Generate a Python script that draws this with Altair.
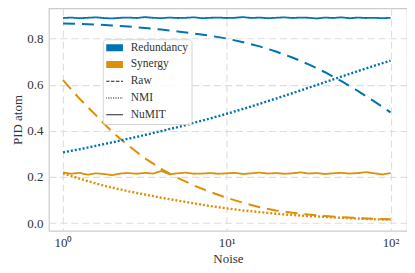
import altair as alt
import pandas as pd

# x grid for smooth curves (log-spaced noise levels)
noise_coarse = [1, 1.259, 1.585, 1.995, 2.512, 3.162, 3.981, 5.012, 6.310, 7.943,
                10, 12.59, 15.85, 19.95, 25.12, 31.62, 39.81, 50.12, 63.10, 79.43, 100]

red_raw = [0.865, 0.864, 0.861, 0.857, 0.852, 0.846, 0.839, 0.831, 0.822, 0.812,
           0.800, 0.784, 0.766, 0.744, 0.718, 0.688, 0.654, 0.615, 0.573, 0.528, 0.480]
red_nmi = [0.307, 0.320, 0.335, 0.350, 0.366, 0.382, 0.399, 0.416, 0.435, 0.454,
           0.474, 0.495, 0.517, 0.540, 0.563, 0.587, 0.611, 0.635, 0.659, 0.682, 0.704]
syn_raw = [0.620, 0.540, 0.468, 0.396, 0.336, 0.281, 0.235, 0.196, 0.163, 0.135,
           0.110, 0.088, 0.069, 0.055, 0.045, 0.037, 0.031, 0.026, 0.022, 0.019, 0.017]
syn_nmi = [0.216, 0.193, 0.172, 0.154, 0.138, 0.124, 0.110, 0.098, 0.086, 0.074,
           0.064, 0.055, 0.048, 0.041, 0.035, 0.031, 0.027, 0.023, 0.020, 0.017, 0.015]

# finer grid for noisy NuMIT estimates
noise_fine = [1, 1.122, 1.259, 1.413, 1.585, 1.778, 1.995, 2.239, 2.512, 2.818,
              3.162, 3.548, 3.981, 4.467, 5.012, 5.623, 6.310, 7.079, 7.943, 8.913,
              10, 11.22, 12.59, 14.13, 15.85, 17.78, 19.95, 22.39, 25.12, 28.18,
              31.62, 35.48, 39.81, 44.67, 50.12, 56.23, 63.10, 70.79, 79.43, 89.13, 100]
red_numit = [0.889, 0.891, 0.888, 0.890, 0.892, 0.889, 0.887, 0.890, 0.891, 0.889,
             0.893, 0.890, 0.888, 0.891, 0.889, 0.890, 0.892, 0.888, 0.890, 0.891,
             0.889, 0.890, 0.893, 0.889, 0.891, 0.888, 0.890, 0.892, 0.889, 0.891,
             0.890, 0.887, 0.891, 0.889, 0.892, 0.888, 0.891, 0.889, 0.890, 0.888, 0.890]
syn_numit = [0.220, 0.214, 0.218, 0.210, 0.216, 0.213, 0.208, 0.215, 0.217, 0.214,
             0.218, 0.215, 0.226, 0.212, 0.216, 0.219, 0.214, 0.215, 0.217, 0.214,
             0.216, 0.218, 0.213, 0.216, 0.219, 0.215, 0.217, 0.214, 0.216, 0.220,
             0.215, 0.217, 0.213, 0.216, 0.218, 0.215, 0.217, 0.221, 0.216, 0.211, 0.217]

legend_entries = ["Redundancy", "Synergy", "Raw", "NMI", "NuMIT"]
legend_colors = ["#0173b2", "#de8f05", "#222222", "#222222", "#222222"]
atom_colors = {"Redundancy": "#0173b2", "Synergy": "#de8f05"}

rows = []
def add(xs, ys, atom, method):
    for x, y in zip(xs, ys):
        rows.append({"noise": x, "value": y, "atom": atom, "method": method})

add(noise_fine, red_numit, "Redundancy", "NuMIT")
add(noise_fine, syn_numit, "Synergy", "NuMIT")
add(noise_coarse, red_raw, "Redundancy", "Raw")
add(noise_coarse, syn_raw, "Synergy", "Raw")
add(noise_coarse, red_nmi, "Redundancy", "NMI")
add(noise_coarse, syn_nmi, "Synergy", "NMI")
df = pd.DataFrame(rows)

FONT = "Liberation Serif"

xenc = alt.X("noise:Q",
             scale=alt.Scale(type="log", domain=[0.82, 126], nice=False),
             axis=alt.Axis(values=[1, 10, 100],
                           labelExpr="datum.value == 1 ? '10⁰' : datum.value == 10 ? '10¹' : '10²'",
                           title="Noise", labelPadding=6, titlePadding=3))
yenc = alt.Y("value:Q",
             scale=alt.Scale(domain=[-0.033, 0.931], nice=False, zero=False),
             axis=alt.Axis(values=[0, 0.2, 0.4, 0.6, 0.8], format=".1f",
                           title="PID atom", labelPadding=6, titlePadding=2))

dash_map = {"Raw": [12, 7], "NMI": [2, 2], "NuMIT": [1, 0]}
width_map = {"Raw": 2.0, "NMI": 2.4, "NuMIT": 1.8}

legend_df = pd.DataFrame({"entry": legend_entries,
                          "noise": [None] * 5, "value": [None] * 5})
legend_layer = alt.Chart(legend_df).mark_line().encode(
    x=alt.X("noise:Q"), y=alt.Y("value:Q"),
    color=alt.Color("entry:N",
                    scale=alt.Scale(domain=legend_entries, range=legend_colors),
                    sort=legend_entries,
                    legend=alt.Legend(
                        title=None, orient="none", legendX=54, legendY=31,
                        symbolType="stroke", symbolSize=484,
                        symbolStrokeWidth={"expr": "(datum.value == 'Redundancy' || datum.value == 'Synergy') ? 7 : 1.1"},
                        symbolDash={"expr": "datum.value == 'Raw' ? [3.5, 1.5] : (datum.value == 'NMI' ? [1.2, 1.2] : [1, 0])"},
                        clipHeight=10, rowPadding=4.8, padding=3.5, labelOffset=13,
                        labelFont=FONT, labelFontSize=11.5, labelColor="#333333",
                        fillColor="rgba(255,255,255,0.85)", strokeColor="#d6d6d6",
                        cornerRadius=3)),
)

layers = [legend_layer]
for m in ["NuMIT", "Raw", "NMI"]:
    for a in ["Redundancy", "Synergy"]:
        sub = df[(df.method == m) & (df.atom == a)]
        layers.append(
            alt.Chart(sub).mark_line(
                color=atom_colors[a], strokeDash=dash_map[m], strokeWidth=width_map[m],
                strokeCap="butt", clip=True
            ).encode(x=xenc, y=yenc)
        )

chart = alt.layer(*layers).properties(
    width=359, height=223,
    padding={"left": 41, "top": 0, "right": 0, "bottom": 34},
    autosize=alt.AutoSizeParams(type="none"),
    background="white",
).configure_view(
    stroke="#cccccc", strokeWidth=1.2
).configure_axis(
    labelFont=FONT, titleFont=FONT, labelFontSize=13, titleFontSize=13,
    labelColor="#333333", titleColor="#333333", titleFontWeight="normal",
    ticks=False, domain=False, grid=True, gridColor="#dddddd", gridDash=[7, 4],
    gridWidth=1.1,
).configure_legend(
    labelFont=FONT, labelFontSize=11.5, labelColor="#333333"
)

chart.save("out.html", embed_options={"renderer": "svg", "actions": False})
